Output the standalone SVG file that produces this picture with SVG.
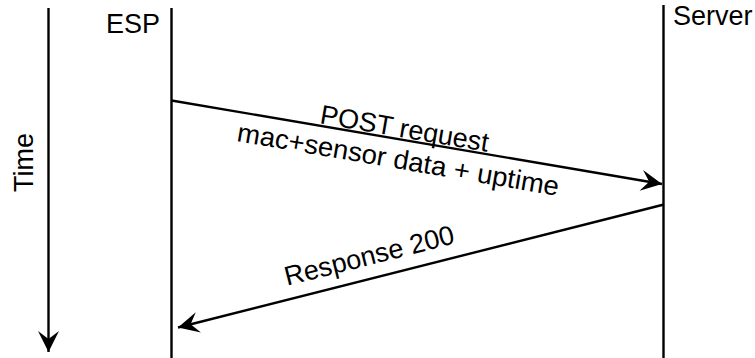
<svg xmlns="http://www.w3.org/2000/svg" width="755" height="358" viewBox="0 0 755 358">
<style>
.t{font-family:"Liberation Sans",Arial,sans-serif;font-size:27px;fill:#000}
.l{stroke:#000;stroke-width:2.4;fill:none}
</style>
<defs>
<marker id="ah" markerUnits="userSpaceOnUse" markerWidth="24" markerHeight="24" viewBox="-22 -12 24 24" refX="0" refY="0" orient="auto">
<path d="M0,0 L-21,-10.5 L-13,0 L-21,10.5 Z" fill="#000"/>
</marker>
</defs>
<rect width="755" height="358" fill="#fff"/>
<g id="time">
<line class="l" x1="48.5" y1="8" x2="48.5" y2="352" marker-end="url(#ah)"/>
<text class="t" text-anchor="middle" transform="translate(32.5,162.5) rotate(-90)">Time</text>
</g>
<g id="esp">
<line class="l" x1="171.5" y1="8" x2="171.5" y2="358"/>
<text class="t" x="106" y="33">ESP</text>
</g>
<g id="server">
<line class="l" x1="663.5" y1="5" x2="663.5" y2="358"/>
<text class="t" x="673" y="25">Server</text>
</g>
<g id="connectors">
<line class="l" x1="171.5" y1="100.5" x2="662" y2="184" marker-end="url(#ah)"/>
<line class="l" x1="664" y1="204.5" x2="178" y2="327.5" marker-end="url(#ah)"/>
<g transform="translate(403,137.5) rotate(9.7)">
<text class="t" text-anchor="middle" x="0" y="0">POST request</text>
<text class="t" text-anchor="middle" x="-1" y="31.5" textLength="326" lengthAdjust="spacingAndGlyphs">mac+sensor data + uptime</text>
</g>
<text class="t" text-anchor="middle" transform="translate(371.5,264.5) rotate(-14.2)">Response 200</text>
</g>
</svg>
